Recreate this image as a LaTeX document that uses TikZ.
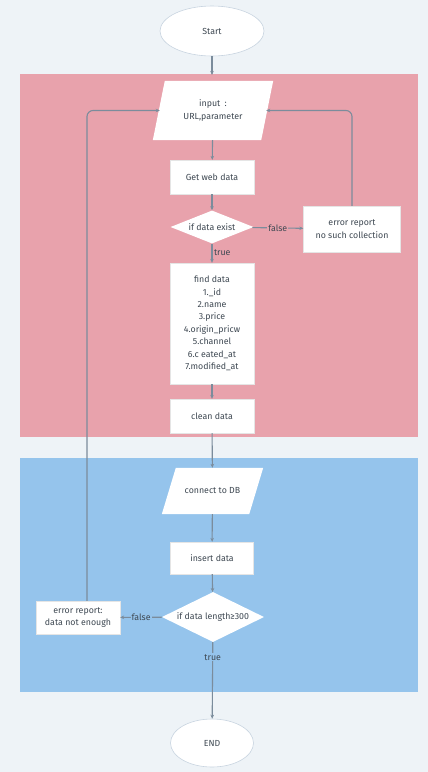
\documentclass[tikz,border=0pt]{standalone}
\usepackage{fontspec}
\setmainfont{Fira Sans}
\usetikzlibrary{shapes.geometric,arrows.meta,backgrounds}
\definecolor{bgc}{HTML}{EEF3F7}
\definecolor{pinkc}{HTML}{E8A2AC}
\definecolor{bluec}{HTML}{95C4EC}
\definecolor{linec}{HTML}{7B8C9C}
\definecolor{txtc}{HTML}{3E4852}
\definecolor{ellc}{HTML}{C8D4E0}
\tikzset{
  every node/.style={font=\fontsize{8.8}{12.4}\selectfont, text=txtc},
  term/.style={ellipse, draw=ellc, line width=0.6pt, fill=white, inner sep=0pt},
  procbox/.style={rectangle, fill=white, draw=white!90!black, line width=0.3pt, inner sep=0pt, align=center},
  iobox/.style={rectangle, inner sep=0pt, align=center},
  decide/.style={diamond, fill=white, inner sep=0pt, aspect=2.5},
  flow/.style={draw=linec, line width=1.1pt, -{Stealth[length=4pt,width=3.5pt]}},
  lbl/.style={inner sep=1pt, text=txtc}
}
\begin{document}
\begin{tikzpicture}[x=1pt,y=-1pt]
\useasboundingbox (0,0) rectangle (428,772);
\begin{scope}[on background layer]
\fill[bgc] (0,0) rectangle (428,772);
\fill[pinkc] (20,74) rectangle (418,437);
\fill[bluec] (20,458) rectangle (418,692);
\end{scope}

\node[term, minimum width=104pt, minimum height=50pt] (start) at (212,31) {Start};
\node[iobox, minimum width=120pt, minimum height=59pt] (input) at (213,110.5) {input\enspace:\\URL,parameter};
\node[procbox, minimum width=84pt, minimum height=34pt] (get) at (212,177) {Get web data};
\node[decide, minimum width=83pt, minimum height=33pt] (exist) at (212,227) {if data exist};
\node[procbox, minimum width=97pt, minimum height=46pt] (err1) at (352,229) {error report\\no such collection};
\node[procbox, minimum width=84pt, minimum height=121pt] (find) at (212,323.5) {find data\\1.\_id\\2.name\\3.price\\4.origin\_pricw\\5.channel\\6.c eated\_at\\7.modified\_at};
\node[procbox, minimum width=84pt, minimum height=34pt] (clean) at (212,416) {clean data};
\node[iobox, minimum width=101pt, minimum height=46pt] (db) at (212.5,491) {connect to DB};
\node[procbox, minimum width=83pt, minimum height=32pt] (insert) at (212,558) {insert data};
\node[decide, minimum width=102pt, minimum height=50pt] (len) at (213,617) {if data length≥300};
\node[procbox, minimum width=84pt, minimum height=33pt] (err2) at (78,617.5) {error report:\\data not enough};
\node[term, minimum width=83pt, minimum height=48pt] (end) at (212,743) {END};

\begin{scope}[on background layer]
\fill[white] ([xshift=12pt]input.north west) -- (input.north east) -- ([xshift=-12pt]input.south east) -- (input.south west) -- cycle;
\fill[white] ([xshift=14pt]db.north west) -- (db.north east) -- ([xshift=-14pt]db.south east) -- (db.south west) -- cycle;
\end{scope}

\coordinate (pinktop) at (212,75);
\draw[flow] (start) -- (pinktop);
\draw[flow] (input) -- (get);
\draw[flow] (get) -- (exist);
\draw[flow] (exist) -- node[lbl, fill=pinkc, pos=0.5] {false} (err1);
\draw[flow, rounded corners=6pt] (err1.north) |- ([xshift=-7pt]input.east);
\draw[flow] (exist) -- node[lbl, anchor=west, pos=0.45, xshift=0.5pt] {true} (find);
\draw[flow] (find) -- (clean);
\draw[flow] (clean) -- (db);
\draw[flow] (db) -- (insert);
\draw[flow] (insert) -- (len);
\draw[flow] (len) -- node[lbl, fill=bluec, pos=0.5] {false} (err2);
\draw[flow, rounded corners=6pt] ([xshift=9pt]err2.north) |- ([xshift=7pt]input.west);
\draw[flow] (len) -- node[lbl, fill=bluec, pos=0.2] {true} (end);
\end{tikzpicture}
\end{document}
